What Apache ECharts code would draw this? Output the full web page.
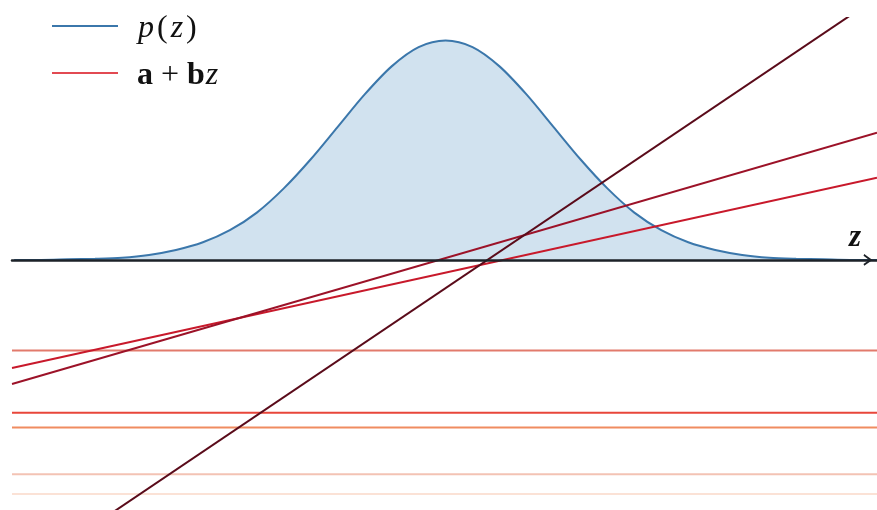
<!DOCTYPE html>
<html>
<head>
<meta charset="utf-8">
<script src="https://cdn.jsdelivr.net/npm/echarts@6/dist/echarts.min.js"></script>
<style>
  html, body { margin: 0; padding: 0; background: #ffffff; }
  #chart { width: 877px; height: 510px; }
</style>
</head>
<body>
<div id="chart"></div>
<script>
// Sample points of the density p(z)
const zGrid = [-4, -3.75, -3.5, -3.25, -3, -2.75, -2.5, -2.25, -2, -1.75, -1.5, -1.25, -1, -0.75, -0.5, -0.25,
               0, 0.25, 0.5, 0.75, 1, 1.25, 1.5, 1.75, 2, 2.25, 2.5, 2.75, 3, 3.25, 3.5, 3.75, 4];
const density = [0.000, 0.000, 0.001, 0.002, 0.004, 0.009, 0.018, 0.032, 0.054, 0.086, 0.130, 0.183, 0.242, 0.301, 0.352, 0.387,
                 0.399, 0.387, 0.352, 0.301, 0.242, 0.183, 0.130, 0.086, 0.054, 0.032, 0.018, 0.009, 0.004, 0.002, 0.001, 0.000, 0.000];

// Straight lines a + b z (intercept a, slope b)
const intercepts = [-0.165, -0.278, -0.305, -0.390, -0.426, -0.0232, 0.0032, -0.0514];
const slopes     = [0, 0, 0, 0, 0, 0.0432, 0.0570, 0.1322];

// Extent of the z axis
const zRange = [-4.02, 4.0];

const lineColors = ['#e27a6c', '#e8463a', '#f08c60', '#f3c3b4', '#fbe2d6', '#c8192b', '#9c1228', '#5a0b1a'];
const densityColor = '#3b77ab';
const densityFill = '#d1e2ef';
const legendRed = '#e24a52';
const serif = 'Liberation Serif';

const series = [{
  name: 'p(z)',
  type: 'line',
  data: zGrid.map((z, i) => [z, density[i]]),
  smooth: 0.3,
  symbol: 'none',
  lineStyle: { color: densityColor, width: 2 },
  itemStyle: { color: densityColor },
  areaStyle: { color: densityFill, opacity: 1 },
  silent: true
}];

intercepts.forEach((a, i) => {
  const b = slopes[i];
  series.push({
    name: 'a + bz',
    type: 'line',
    data: zRange.map(z => [z, a + b * z]),
    symbol: 'none',
    lineStyle: { color: lineColors[i], width: 2 },
    itemStyle: { color: lineColors[i] },
    silent: true
  });
});

const chart = echarts.init(document.getElementById('chart'), null, { renderer: 'canvas' });
chart.setOption({
  animation: false,
  backgroundColor: '#ffffff',
  grid: { left: 12, right: 0, top: 18, bottom: 0 },
  xAxis: {
    type: 'value',
    min: zRange[0],
    max: zRange[1],
    z: 10,
    axisLine: {
      onZero: true,
      lineStyle: { color: '#1d2228', width: 2.5 },
      symbol: ['none', 'path://M0,9 L6.5,0 L13,9 L11,9.8 L6.5,3.6 L2,9.8 Z'],
      symbolSize: [13, 9],
      symbolOffset: [0, -9]
    },
    axisTick: { show: false },
    axisLabel: { show: false },
    splitLine: { show: false },
    name: 'z',
    nameLocation: 'end',
    nameGap: -22,
    nameTextStyle: {
      fontFamily: serif,
      fontStyle: 'italic',
      fontWeight: 'bold',
      fontSize: 31,
      lineHeight: 30,
      color: '#111111',
      align: 'center',
      verticalAlign: 'bottom',
      padding: [0, 0, 7, 0]
    }
  },
  yAxis: {
    type: 'value',
    min: -0.455,
    max: 0.44,
    show: false
  },
  legend: {
    orient: 'vertical',
    left: 52,
    top: 8,
    padding: 0,
    itemWidth: 66,
    itemHeight: 2,
    itemGap: 10,
    selectedMode: false,
    icon: 'rect',
    data: [
      { name: 'p(z)', itemStyle: { color: densityColor } },
      { name: 'a + bz', itemStyle: { color: legendRed } }
    ],
    formatter: name => name === 'p(z)'
      ? '{pad|}{i|p}{g|(}{i|z}{g|)}'
      : '{pad|}{b|a}{r| + }{b|b}{i|z}',
    textStyle: {
      fontFamily: serif,
      fontSize: 32,
      lineHeight: 30,
      color: '#111111',
      padding: [6, 0, 0, 0],
      rich: {
        pad: { width: 14 },
        i: { fontFamily: serif, fontStyle: 'italic', fontSize: 32, color: '#111111', padding: [0, 1, 0, 1] },
        g: { fontFamily: serif, fontSize: 32, color: '#111111', padding: [0, 2, 0, 2] },
        r: { fontFamily: serif, fontSize: 32, color: '#111111' },
        b: { fontFamily: serif, fontWeight: 'bold', fontSize: 32, color: '#111111' }
      }
    }
  },
  series: series
});
</script>
</body>
</html>
